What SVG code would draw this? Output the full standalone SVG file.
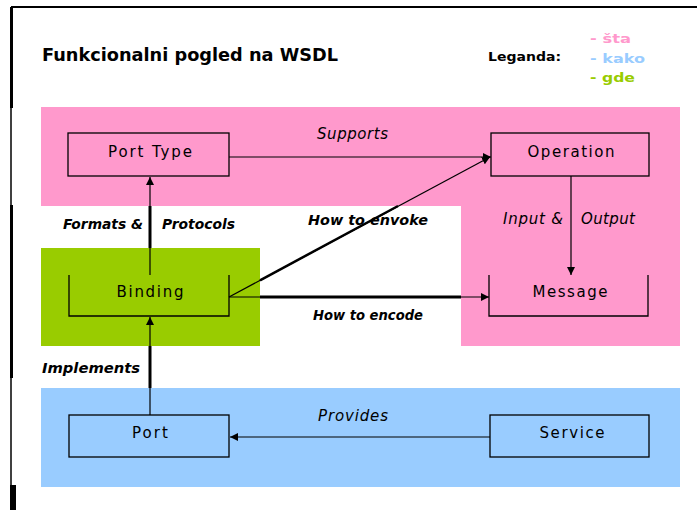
<svg xmlns="http://www.w3.org/2000/svg" width="697" height="510" viewBox="0 0 697 510">
<defs>
<marker id="ah" markerUnits="userSpaceOnUse" markerWidth="9" markerHeight="8" refX="8" refY="4" orient="auto">
<path d="M0,0 L8,4 L0,8 z" fill="#000"/>
</marker>
<style>
.box{fill:none;stroke:#000;stroke-width:1.3}
.lbl{font-family:"DejaVu Sans","Liberation Sans",sans-serif;font-size:15px;fill:#000;text-anchor:middle}
.it{font-family:"DejaVu Sans","Liberation Sans",sans-serif;font-size:15px;font-style:italic;fill:#000}
.bi{font-family:"DejaVu Sans","Liberation Sans",sans-serif;font-size:14px;font-style:italic;font-weight:bold;fill:#000}
.ln{fill:none;stroke:#000;stroke-width:1.2}
.thk{fill:none;stroke:#000;stroke-width:3}
.leg{font-family:"DejaVu Sans","Liberation Sans",sans-serif;font-size:13px;font-weight:bold}
</style>
</defs>
<rect width="697" height="510" fill="#fff"/>
<!-- frame -->
<path d="M11,7 H697" stroke="#000" stroke-width="2" fill="none"/>
<path d="M11,7 V490" stroke="#000" stroke-width="1.5" fill="none"/>
<path d="M11.5,7 V108 M11.5,205 V378" stroke="#000" stroke-width="3" fill="none"/>
<rect x="10" y="485" width="6" height="25" fill="#000"/>
<!-- title and legend -->
<text x="42" y="61" font-family="DejaVu Sans, Liberation Sans, sans-serif" font-size="17" font-weight="bold" textLength="296" lengthAdjust="spacingAndGlyphs">Funkcionalni pogled na WSDL</text>
<text x="488" y="61" class="leg" fill="#000" textLength="73" lengthAdjust="spacingAndGlyphs">Leganda:</text>
<text x="590" y="43" class="leg" fill="#ff99cc" textLength="41" lengthAdjust="spacingAndGlyphs">- šta</text>
<text x="590" y="63" class="leg" fill="#99ccff" textLength="55" lengthAdjust="spacingAndGlyphs">- kako</text>
<text x="590" y="82" class="leg" fill="#99cc00" textLength="45" lengthAdjust="spacingAndGlyphs">- gde</text>
<!-- regions -->
<path d="M41,107 H680 V346 H461 V206 H41 Z" fill="#ff99cc"/>
<rect x="41" y="248" width="219" height="98" fill="#99cc00"/>
<rect x="41" y="388" width="639" height="99" fill="#99ccff"/>
<!-- nodes -->
<g id="port-type">
<rect class="box" x="68" y="133" width="161" height="43"/>
<text class="lbl" x="150" y="157" textLength="84" lengthAdjust="spacing">Port Type</text>
</g>
<g id="operation">
<rect class="box" x="491" y="133" width="158" height="43"/>
<text class="lbl" x="571" y="157" textLength="87" lengthAdjust="spacing">Operation</text>
</g>
<g id="binding">
<path class="box" d="M69,275 V316 H229 V275"/>
<text class="lbl" x="150" y="297" textLength="67" lengthAdjust="spacing">Binding</text>
</g>
<g id="message">
<path class="box" d="M489,275 V316 H648 V275"/>
<text class="lbl" x="570" y="297" textLength="75" lengthAdjust="spacing">Message</text>
</g>
<g id="port">
<rect class="box" x="69" y="415" width="160" height="42"/>
<text class="lbl" x="150" y="438" textLength="36" lengthAdjust="spacing">Port</text>
</g>
<g id="service">
<rect class="box" x="490" y="415" width="159" height="42"/>
<text class="lbl" x="572" y="438" textLength="65" lengthAdjust="spacing">Service</text>
</g>
<!-- connectors -->
<g id="connectors">
<line class="ln" x1="229" y1="157" x2="491" y2="157" marker-end="url(#ah)"/>
<line class="ln" x1="150" y1="275" x2="150" y2="177" marker-end="url(#ah)"/>
<line class="thk" x1="150" y1="206" x2="150" y2="248"/>
<line class="ln" x1="150" y1="415" x2="150" y2="317" marker-end="url(#ah)"/>
<line class="thk" x1="150" y1="346" x2="150" y2="388"/>
<line class="ln" x1="571" y1="176" x2="571" y2="275" marker-end="url(#ah)"/>
<line class="ln" x1="229" y1="297" x2="489" y2="297" marker-end="url(#ah)"/>
<line class="thk" x1="260" y1="297" x2="461" y2="297"/>
<line class="ln" x1="229" y1="297" x2="490" y2="157" marker-end="url(#ah)"/>
<line x1="260" y1="280.3" x2="398" y2="206" stroke="#000" stroke-width="2.5"/>
<line class="ln" x1="490" y1="437" x2="230" y2="437" marker-end="url(#ah)"/>
</g>
<!-- connector labels -->
<text class="it" x="317" y="139" textLength="71" lengthAdjust="spacing">Supports</text>
<text class="it" x="503" y="224" textLength="60" lengthAdjust="spacing">Input &amp;</text>
<text class="it" x="581" y="224" textLength="54" lengthAdjust="spacing">Output</text>
<text class="bi" x="63" y="229" textLength="80" lengthAdjust="spacingAndGlyphs">Formats &amp;</text>
<text class="bi" x="162" y="229" textLength="73" lengthAdjust="spacingAndGlyphs">Protocols</text>
<text class="bi" x="308" y="225" textLength="120" lengthAdjust="spacingAndGlyphs">How to envoke</text>
<text class="bi" x="313" y="320" textLength="110" lengthAdjust="spacingAndGlyphs">How to encode</text>
<text class="bi" x="42" y="373" textLength="98" lengthAdjust="spacingAndGlyphs">Implements</text>
<text class="it" x="318" y="421" textLength="70" lengthAdjust="spacing">Provides</text>
</svg>
